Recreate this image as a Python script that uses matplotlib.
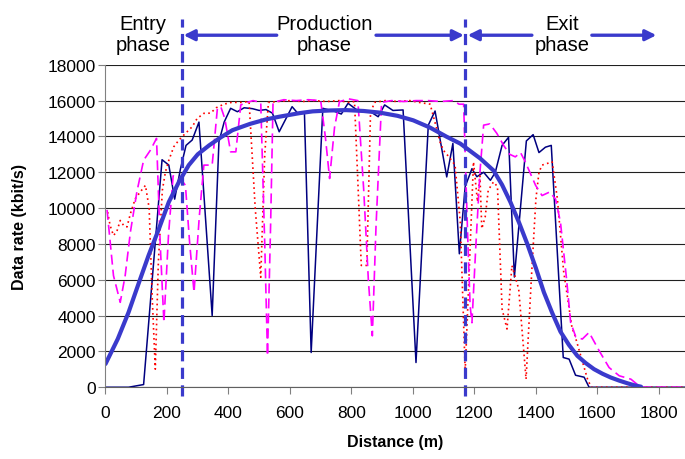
import matplotlib
matplotlib.use("Agg")
import matplotlib.pyplot as plt

plt.rcParams['font.family'] = ['Liberation Sans', 'DejaVu Sans']

# measured run 1 (solid navy)
dist_a = [0, 75, 124, 184, 206, 225, 244, 262, 282, 304, 347, 369, 386, 407, 429, 451, 478, 500,
          522, 543, 565, 607, 625, 647, 669, 707, 745, 767, 789, 816, 860, 887, 908, 935, 968,
          1010, 1050, 1072, 1110, 1130, 1151, 1170, 1192, 1208, 1230, 1252, 1268, 1290, 1311,
          1330, 1369, 1391, 1410, 1431, 1450, 1489, 1508, 1529, 1557, 1573, 1885]
rate_a = [0, 0, 150, 12700, 12400, 10500, 12200, 13500, 13800, 14800, 4000, 13700, 14800, 15570,
          15380, 15600, 15550, 15450, 15500, 15300, 14260, 15660, 15300, 15380, 1940, 15570, 15400,
          15250, 15850, 15500, 15400, 15100, 15760, 15450, 15480, 1380, 14630, 15420, 11740,
          13610, 7450, 11200, 12200, 11750, 12000, 11550, 12000, 13500, 13950, 6150, 13750,
          14100, 13100, 13400, 13500, 1660, 1570, 670, 560, 0, 0]

# measured run 2 (red dotted)
dist_b = [7, 15, 26, 37, 48, 59, 70, 81, 97, 113, 130, 142, 152, 162, 172, 185, 195, 206, 222,
          239, 260, 282, 298, 320, 342, 360, 385, 410, 440, 467, 487, 505, 518, 530, 560, 600,
          640, 680, 720, 760, 790, 810, 822, 832, 850, 862, 875, 910, 950, 990, 1020, 1056,
          1077, 1088, 1099, 1120, 1137, 1154, 1170, 1182, 1197, 1210, 1218, 1224, 1235, 1245,
          1262, 1275, 1290, 1306, 1322, 1344, 1368, 1385, 1400, 1410, 1420, 1453, 1470, 1490,
          1518, 1524, 1546, 1568, 1580, 1885]
rate_b = [9780, 9030, 8470, 8700, 9310, 9030, 8950, 9690, 10530, 10900, 11270, 10000, 5000,
          1010, 7000, 11000, 12020, 12670, 13420, 13800, 14170, 14540, 15000, 15290, 15300,
          15600, 15800, 15900, 15900, 15950, 10000, 6140, 13000, 15900, 15950, 16000, 15950,
          16000, 15950, 16000, 15900, 15950, 11000, 6800, 6800, 15300, 15900, 16000, 15950,
          16000, 15900, 15800, 14450, 13700, 13230, 12800, 12400, 9240, 900, 6000, 12580,
          10350, 11800, 8850, 9500, 11000, 11460, 11200, 4370, 3250, 6790, 5490, 450, 6000,
          10500, 12000, 12400, 12580, 10500, 6500, 3250, 3060, 1750, 450, 0, 0]

# measured run 3 (magenta dashed)
dist_c = [5, 26, 48, 64, 81, 102, 124, 146, 166, 178, 190, 205, 220, 244, 260, 274, 288, 305,
          320, 347, 364, 375, 388, 407, 424, 440, 456, 480, 505, 518, 527, 537, 545, 580, 620,
          660, 700, 715, 729, 745, 761, 790, 821, 840, 855, 868, 880, 898, 930, 970, 1010,
          1050, 1090, 1132, 1150, 1165, 1178, 1186, 1192, 1205, 1218, 1230, 1250, 1273, 1295,
          1315, 1333, 1350, 1365, 1399, 1420, 1445, 1464, 1480, 1500, 1513, 1530, 1551, 1573,
          1606, 1638, 1671, 1709, 1736, 1745, 1885]
rate_c = [9900, 6230, 4740, 6230, 8660, 10900, 12670, 13230, 13890, 8000, 3620, 8500, 11800,
          11650, 11270, 8000, 5300, 9500, 12400, 12400, 15570, 15660, 15000, 13140, 13140,
          15760, 15870, 16000, 15900, 8000, 1750, 9000, 15900, 16050, 16000, 16050, 16000,
          14000, 11650, 14500, 15940, 16100, 16000, 11000, 6000, 2870, 9000, 15900, 16000,
          15950, 16000, 16000, 15950, 16000, 15800, 15800, 8500, 4550, 3600, 8000, 12000,
          14630, 14700, 14170, 13500, 13000, 12860, 13100, 12600, 11270, 10700, 10900, 10500,
          9200, 6000, 3620, 2800, 2690, 3060, 2030, 1100, 640, 450, 70, 0, 0]

# fitted trend (thick blue)
dist_fit = [0, 40, 75, 110, 140, 175, 206, 240, 271, 300, 337, 375, 413, 470, 522, 565, 631,
            674, 730, 783, 840, 892, 950, 1001, 1055, 1110, 1154, 1219, 1262, 1290, 1317, 1345,
            1372, 1400, 1426, 1453, 1480, 1508, 1535, 1562, 1589, 1617, 1644, 1671, 1698, 1720,
            1742]
rate_fit = [1300, 2700, 4180, 5900, 7350, 8900, 10340, 11500, 12400, 13000, 13500, 13950, 14350,
            14700, 14950, 15100, 15300, 15400, 15450, 15470, 15420, 15330, 15150, 14900, 14500,
            13980, 13600, 12770, 12100, 11300, 10340, 9200, 8000, 6650, 5300, 4150, 3100, 2350,
            1750, 1350, 1010, 750, 540, 370, 220, 110, 30]

phase_bounds = [249, 1171]

blue = '#3a3acc'

fig = plt.figure(figsize=(6.85, 4.6), dpi=100)
ax = fig.add_axes([0.154, 0.156, 0.846, 0.701])

ax.plot(dist_a, rate_a, color='#000080', lw=1.1)
ax.plot(dist_b, rate_b, color='#ff0000', lw=1.2, linestyle=(0, (1, 2)))
ax.plot(dist_c, rate_c, color='#ff00ff', lw=1.2, linestyle=(0, (6, 3)))
ax.plot(dist_fit, rate_fit, color=blue, lw=3.0, solid_capstyle='round')

for xb in phase_bounds:
    ax.plot([xb, xb], [-490, 20560], color=blue, lw=2.3, linestyle=(0, (3.5, 2)), clip_on=False)

ax.set_xlim(0, 1885)
ax.set_ylim(0, 18000)
ax.set_xticks(range(0, 1801, 200))
ax.set_yticks(range(0, 18001, 2000))
ax.grid(axis='y', color='#202020', lw=0.8)
ax.set_axisbelow(True)
for s in ['top', 'right']:
    ax.spines[s].set_visible(False)
ax.spines['left'].set_color('#808080')
ax.spines['bottom'].set_color('#606060')
ax.tick_params(axis='both', direction='out', length=5, color='#808080', labelsize=12.5)
ax.tick_params(axis='x', pad=8)
ax.tick_params(axis='y', pad=2)

ax.set_xlabel('Distance (m)', fontsize=11.5, fontweight='bold', labelpad=10)
ax.set_ylabel('Data rate (kbit/s)', fontsize=11.5, fontweight='bold')
ax.yaxis.set_label_coords(-0.135, 0.5)

# phase annotations above the plot
ty = 19730
ay = 19650
for label, xt in [('Entry\nphase', 122), ('Production\nphase', 712), ('Exit\nphase', 1485)]:
    ax.text(xt, ty, label, ha='center', va='center', fontsize=14.5, linespacing=1.15, clip_on=False)

arrows = [(557, 254), (880, 1166), (1387, 1178), (1582, 1792)]
for x0, x1 in arrows:
    ax.annotate('', xy=(x1, ay), xytext=(x0, ay), annotation_clip=False,
                arrowprops=dict(arrowstyle='-|>', color=blue, lw=2.4, mutation_scale=16,
                                shrinkA=0, shrinkB=0))

fig.savefig('out.png', dpi=100)
